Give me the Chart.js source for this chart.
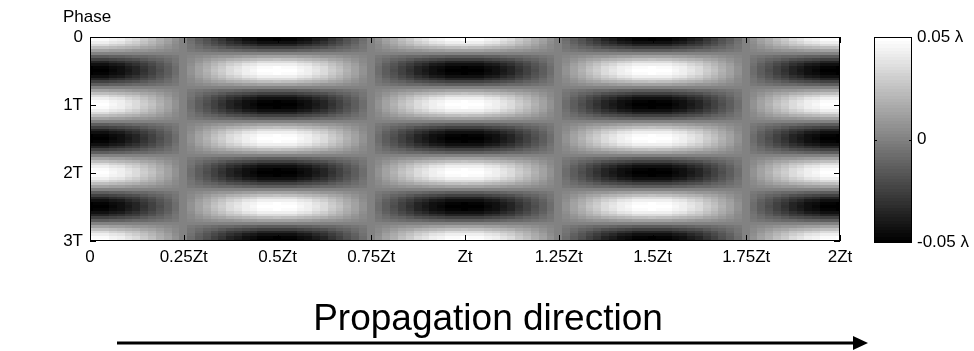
<!DOCTYPE html>
<html>
<head>
<meta charset="utf-8">
<script src="https://cdn.jsdelivr.net/npm/chart.js@4.4.1/dist/chart.umd.min.js"></script>
<style>
  html, body { margin: 0; padding: 0; background: #fff; }
  #wrap { position: relative; width: 974px; height: 351px; }
  #wrap canvas { position: absolute; left: 0; top: 0; }
</style>
</head>
<body>
<div id="wrap">
  <canvas id="mapChart" width="974" height="351"></canvas>
  <canvas id="barChart" width="974" height="351"></canvas>
</div>
<script>
// Displacement map: amplitude along propagation (z) and along phase (t)
const amplitude = 0.05; // in lambda
const zStep = 1 / 48;   // Zt per sample
const phaseStep = 1 / 24; // T per sample

const zProfile = [
  1, .99, .97, .92, .87, .79, .71, .61, .5, .38, .26, .13, 0,
  -.13, -.26, -.38, -.5, -.61, -.71, -.79, -.87, -.92, -.97, -.99, -1,
  -.99, -.97, -.92, -.87, -.79, -.71, -.61, -.5, -.38, -.26, -.13, 0,
  .13, .26, .38, .5, .61, .71, .79, .87, .92, .97, .99, 1,
  .99, .97, .92, .87, .79, .71, .61, .5, .38, .26, .13, 0,
  -.13, -.26, -.38, -.5, -.61, -.71, -.79, -.87, -.92, -.97, -.99, -1,
  -.99, -.97, -.92, -.87, -.79, -.71, -.61, -.5, -.38, -.26, -.13, 0,
  .13, .26, .38, .5, .61, .71, .79, .87, .92, .97, .99, 1
];

const phaseProfile = [
  1,
  .97, .87, .71, .5, .26, 0, -.26, -.5, -.71, -.87, -.97, -1,
  -.97, -.87, -.71, -.5, -.26, 0, .26, .5, .71, .87, .97, 1,
  .97, .87, .71, .5, .26, 0, -.26, -.5, -.71, -.87, -.97, -1,
  -.97, -.87, -.71, -.5, -.26, 0, .26, .5, .71, .87, .97, 1,
  .97, .87, .71, .5, .26, 0, -.26, -.5, -.71, -.87, -.97, -1,
  -.97, -.87, -.71, -.5, -.26, 0, .26, .5, .71, .87, .97, 1
];

const xTickValues = [0, 0.25, 0.5, 0.75, 1, 1.25, 1.5, 1.75, 2];
const xTickLabels = ['0', '0.25Zt', '0.5Zt', '0.75Zt', 'Zt', '1.25Zt', '1.5Zt', '1.75Zt', '2Zt'];
const yTickValues = [0, 1, 2, 3];
const yTickLabels = ['0', '1T', '2T', '3T'];
const barTickValues = [-0.05, 0, 0.05];
const barTickLabels = ['-0.05 \u03bb', '0', '0.05 \u03bb'];

// cell table: value[row][col]
const cells = phaseProfile.map(p => zProfile.map(z => amplitude * p * z));

Chart.defaults.font.family = '"Liberation Sans", Arial, sans-serif';
Chart.defaults.font.size = 17;
Chart.defaults.color = '#000';

// matlab style gray colormap, 64 levels
function grayFor(v) {
  let t = (v + amplitude) / (2 * amplitude);
  t = Math.max(0, Math.min(1, t));
  const level = Math.min(63, Math.floor(t * 64));
  const g = Math.round(level / 63 * 255);
  return 'rgb(' + g + ',' + g + ',' + g + ')';
}

const heatmapPlugin = {
  id: 'heatmap',
  beforeDatasetsDraw(chart) {
    const { ctx, chartArea: a, scales: { x, y } } = chart;
    ctx.save();
    ctx.beginPath();
    ctx.rect(a.left, a.top, a.right - a.left, a.bottom - a.top);
    ctx.clip();
    for (let i = 0; i < zProfile.length; i++) {
      const z = i * zStep;
      const x0 = Math.floor(x.getPixelForValue(z - zStep / 2));
      const x1 = Math.ceil(x.getPixelForValue(z + zStep / 2));
      for (let j = 0; j < phaseProfile.length; j++) {
        const t = j * phaseStep;
        const y0 = Math.floor(y.getPixelForValue(t - phaseStep / 2));
        const y1 = Math.ceil(y.getPixelForValue(t + phaseStep / 2));
        ctx.fillStyle = grayFor(cells[j][i]);
        ctx.fillRect(x0, Math.min(y0, y1), x1 - x0, Math.abs(y1 - y0));
      }
    }
    ctx.restore();
  },
  afterDatasetsDraw(chart) {
    const { ctx, chartArea: a, scales: { x, y } } = chart;
    ctx.save();
    ctx.strokeStyle = '#000';
    ctx.lineWidth = 1;
    ctx.strokeRect(a.left + 0.5, a.top + 0.5, a.right - a.left - 1, a.bottom - a.top - 1);
    ctx.beginPath();
    xTickValues.forEach(v => {
      const px = Math.round(x.getPixelForValue(v)) + 0.5;
      ctx.moveTo(px, a.top); ctx.lineTo(px, a.top + 6);
      ctx.moveTo(px, a.bottom); ctx.lineTo(px, a.bottom - 6);
    });
    yTickValues.forEach(v => {
      const py = Math.round(y.getPixelForValue(v)) + 0.5;
      ctx.moveTo(a.left, py); ctx.lineTo(a.left + 6, py);
      ctx.moveTo(a.right, py); ctx.lineTo(a.right - 6, py);
    });
    ctx.stroke();
    ctx.restore();
  },
  afterDraw(chart) {
    const ctx = chart.ctx;
    ctx.save();
    ctx.fillStyle = '#000';
    ctx.font = '17px "Liberation Sans", Arial, sans-serif';
    ctx.textAlign = 'left';
    ctx.textBaseline = 'alphabetic';
    ctx.fillText('Phase', 63, 22);

    ctx.font = '37px "Liberation Sans", Arial, sans-serif';
    ctx.textAlign = 'center';
    ctx.fillText('Propagation direction', 488, 330);

    // arrow
    ctx.strokeStyle = '#000';
    ctx.lineWidth = 3;
    ctx.beginPath();
    ctx.moveTo(117, 343);
    ctx.lineTo(855, 343);
    ctx.stroke();
    ctx.beginPath();
    ctx.moveTo(853, 336);
    ctx.lineTo(868, 343);
    ctx.lineTo(853, 350);
    ctx.closePath();
    ctx.fill();
    ctx.restore();
  }
};

new Chart(document.getElementById('mapChart'), {
  type: 'scatter',
  data: { datasets: [{ data: [], pointRadius: 0 }] },
  options: {
    responsive: false,
    animation: false,
    devicePixelRatio: 1,
    layout: { padding: { left: 50, right: 134, top: 37, bottom: 80 } },
    plugins: { legend: { display: false }, tooltip: { enabled: false } },
    scales: {
      x: {
        type: 'linear',
        min: 0,
        max: 2,
        grid: { display: false, drawTicks: false },
        border: { display: false },
        afterBuildTicks: s => { s.ticks = xTickValues.map(v => ({ value: v })); },
        afterFit: s => { s.height = 30; },
        ticks: {
          padding: 6,
          maxRotation: 0,
          autoSkip: false,
          callback: (v, i) => xTickLabels[i]
        }
      },
      y: {
        type: 'linear',
        min: 0,
        max: 3,
        reverse: true,
        grid: { display: false, drawTicks: false },
        border: { display: false },
        afterBuildTicks: s => { s.ticks = yTickValues.map(v => ({ value: v })); },
        afterFit: s => { s.width = 40; },
        ticks: {
          padding: 7,
          autoSkip: false,
          callback: (v, i) => yTickLabels[i]
        }
      }
    }
  },
  plugins: [heatmapPlugin]
});

// colorbar
const colorbarPlugin = {
  id: 'colorbar',
  beforeDatasetsDraw(chart) {
    const { ctx, chartArea: a, scales: { y } } = chart;
    const n = 64;
    const span = 2 * amplitude / n;
    ctx.save();
    for (let k = 0; k < n; k++) {
      const v0 = -amplitude + k * span;
      const y0 = Math.round(y.getPixelForValue(v0));
      const y1 = Math.round(y.getPixelForValue(v0 + span));
      ctx.fillStyle = grayFor(v0 + span / 2);
      ctx.fillRect(a.left, y1, a.right - a.left, y0 - y1 + 1);
    }
    ctx.strokeStyle = '#000';
    ctx.lineWidth = 1;
    ctx.strokeRect(a.left + 0.5, a.top + 0.5, a.right - a.left - 1, a.bottom - a.top - 1);
    ctx.beginPath();
    barTickValues.forEach(v => {
      const py = Math.round(y.getPixelForValue(v)) + 0.5;
      ctx.moveTo(a.left, py); ctx.lineTo(a.left + 3, py);
      ctx.moveTo(a.right, py); ctx.lineTo(a.right - 3, py);
    });
    ctx.stroke();
    ctx.restore();
  }
};

new Chart(document.getElementById('barChart'), {
  type: 'scatter',
  data: { datasets: [{ data: [], pointRadius: 0 }] },
  options: {
    responsive: false,
    animation: false,
    devicePixelRatio: 1,
    layout: { padding: { left: 874, right: 0, top: 37, bottom: 109 } },
    plugins: { legend: { display: false }, tooltip: { enabled: false } },
    scales: {
      x: { type: 'linear', display: false, min: 0, max: 1 },
      y: {
        type: 'linear',
        position: 'right',
        min: -amplitude,
        max: amplitude,
        grid: { display: false, drawTicks: false },
        border: { display: false },
        afterBuildTicks: s => { s.ticks = barTickValues.map(v => ({ value: v })); },
        afterFit: s => { s.width = 62; },
        ticks: {
          padding: 5,
          autoSkip: false,
          callback: (v, i) => barTickLabels[i]
        }
      }
    }
  },
  plugins: [colorbarPlugin]
});
</script>
</body>
</html>
